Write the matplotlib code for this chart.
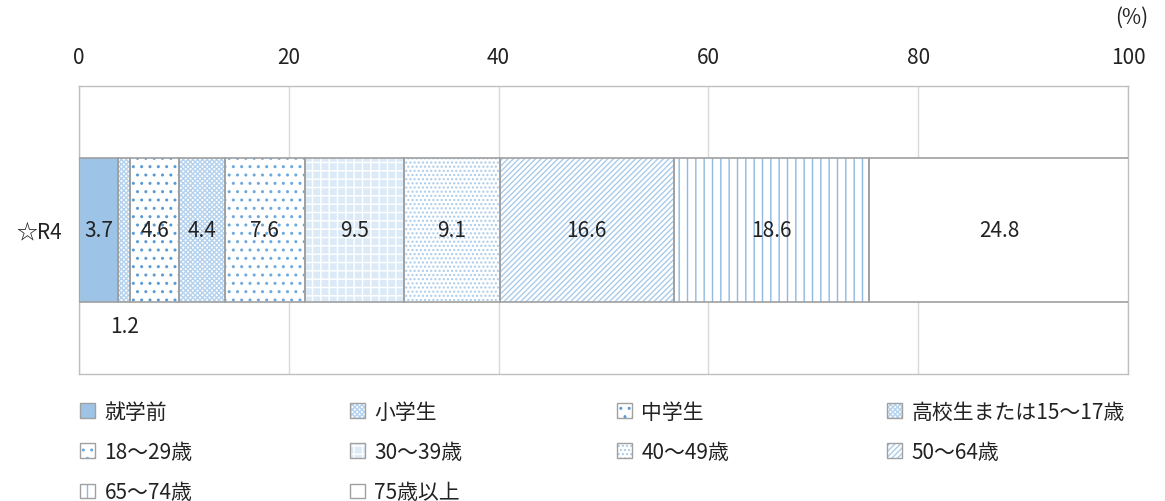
import matplotlib
matplotlib.use("Agg")
import matplotlib.pyplot as plt
from matplotlib.patches import Patch
from matplotlib.legend_handler import HandlerTuple

plt.rcParams['font.family'] = ['Noto Sans CJK JP', 'DejaVu Sans']

categories = ['就学前', '小学生', '中学生', '高校生または15～17歳', '18～29歳',
              '30～39歳', '40～49歳', '50～64歳', '65～74歳', '75歳以上']
values = [3.7, 1.2, 4.6, 4.4, 7.6, 9.5, 9.1, 16.6, 18.6, 24.8]
row_label = '☆R4'
xticks = [0, 20, 40, 60, 80, 100]

styles = [
    dict(fc='#9DC3E6', hatch=None, hc='#9DC3E6'),
    dict(fc='white', hatch='xxxxxxx', hc='#B4D2EE'),
    dict(fc='white', hatch='..', hc='#5B9BD5'),
    dict(fc='white', hatch='xxxxxxx', hc='#B4D2EE'),
    dict(fc='white', hatch='..', hc='#6FA8DC'),
    dict(fc='#DCEAF7', hatch='++', hc='white'),
    dict(fc='white', hatch='....', hc='#A9CBEA'),
    dict(fc='white', hatch='//////', hc='#A9CBEA'),
    dict(fc='white', hatch='||', hc='#8DB9E2'),
    dict(fc='white', hatch=None, hc='white'),
]
edge = '#A0A0A0'
txt = '#222222'
fs = 15

fig = plt.figure(figsize=(11.65, 5.02), dpi=100)
ax = fig.add_axes([79/1165, 1-375/502, (1128-79)/1165, (375-87)/502])
ax.set_xlim(0, 100)
ax.set_ylim(-0.5, 0.5)

left = 0
for cat, v, st in zip(categories, values, styles):
    ax.barh(0, v, left=left, height=0.5, color=st['fc'], hatch=st['hatch'],
            edgecolor=st['hc'], linewidth=0, zorder=2)
    ax.barh(0, v, left=left, height=0.5, fill=False, edgecolor=edge,
            linewidth=1.2, zorder=3)
    cx = left + v / 2
    if v < 2:
        ax.text(cx, -0.333, f'{v:.1f}', ha='center', va='center', fontsize=fs, color=txt)
    else:
        ax.text(cx, 0, f'{v:.1f}', ha='center', va='center', fontsize=fs, color=txt, zorder=4)
    left += v

ax.xaxis.tick_top()
ax.set_xticks(xticks)
ax.set_xticklabels([str(t) for t in xticks], fontsize=fs, color=txt)
ax.tick_params(axis='x', length=0, pad=13)
ax.set_yticks([0])
ax.set_yticklabels([row_label], fontsize=fs, color=txt)
ax.tick_params(axis='y', length=0, pad=12)
ax.grid(axis='x', color='#D9D9D9', linewidth=1.0, zorder=0)
ax.set_axisbelow(True)
for s in ax.spines.values():
    s.set_color('#BFBFBF')
    s.set_linewidth(1.0)

fig.text(1148/1165, 1-18/502, '(%)', ha='right', va='center', fontsize=fs, color=txt)

# legend in 4 equally spaced columns
handles = []
for st in styles:
    h1 = Patch(facecolor=st['fc'], hatch=st['hatch'], edgecolor=st['hc'], linewidth=0)
    h2 = Patch(fill=False, edgecolor=edge, linewidth=1.0)
    handles.append((h1, h2))

cols = [[0, 4, 8], [1, 5, 9], [2, 6], [3, 7]]
col_x = [80, 350, 617, 887]
for cx, idxs in zip(col_x, cols):
    leg = fig.legend([handles[i] for i in idxs], [categories[i] for i in idxs],
                     handler_map={tuple: HandlerTuple(ndivide=1, pad=0)},
                     loc='upper left', bbox_to_anchor=(cx/1165, 1-402/502),
                     frameon=False, fontsize=fs, handlelength=0.72, handleheight=0.72,
                     handletextpad=0.45, labelspacing=0.87, borderpad=0, borderaxespad=0)
    for t in leg.get_texts():
        t.set_color(txt)

fig.savefig('out.png', dpi=100)
